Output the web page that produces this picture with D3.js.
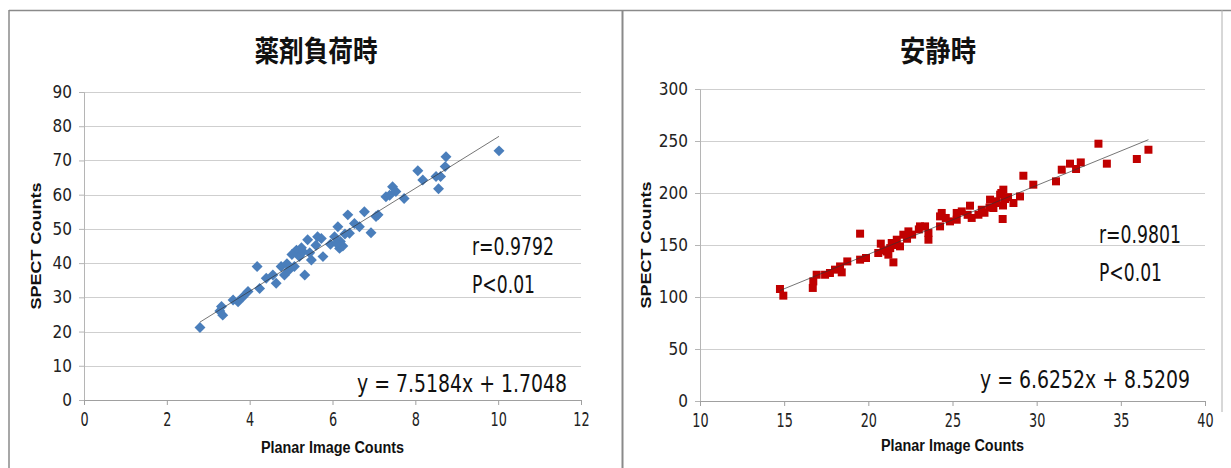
<!DOCTYPE html>
<html lang="ja">
<head>
<meta charset="UTF-8">
<title>Planar vs SPECT counts</title>
<script src="https://d3js.org/d3.v7.min.js"></script>
<style>
  body { margin: 0; background: #fff; }
  svg { display: block; }
  .tick text { font-family: "Liberation Sans Narrow", "DejaVu Sans Condensed", sans-serif; fill: #222; }
  .title { font-family: "Noto Sans CJK JP", sans-serif; font-weight: bold; font-size: 29px; fill: #111; }
  .axis-label { font-family: "Liberation Sans", "DejaVu Sans", sans-serif; font-weight: bold; fill: #111; }
  .note { font-family: "Liberation Sans Narrow", "DejaVu Sans Condensed", sans-serif; font-size: 24px; fill: #111; }
</style>
</head>
<body>
<svg width="1231" height="468"></svg>
<script>
// stress (薬剤負荷時)
const stressX = [2.80, 3.28, 3.32, 3.35, 3.60, 3.72, 3.84, 3.96, 4.18, 4.24, 4.40, 4.56, 4.64, 4.76, 4.84,
  4.95, 5.08, 5.13, 5.20, 5.29, 5.33, 5.40, 5.49, 5.64, 5.73, 5.77, 5.95, 6.05, 6.13, 6.17, 6.19, 6.25,
  6.37, 6.41, 6.53, 6.65, 6.77, 6.93, 7.05, 7.10, 7.29, 7.38, 7.45, 7.53, 7.73, 8.06, 8.18, 8.50, 8.56,
  8.61, 8.72, 8.74, 10.02, 5.02, 5.25, 5.45, 6.10, 6.30, 4.90, 5.60];
const stressY = [21.2, 26.0, 27.3, 24.8, 29.2, 28.7, 30.2, 31.7, 39.0, 32.6, 35.6, 36.5, 34.1, 39.0, 36.5,
  38.0, 39.0, 43.8, 41.9, 43.3, 36.5, 46.8, 40.9, 47.7, 47.2, 41.9, 45.5, 47.7, 50.6, 44.3, 46.3, 45.0,
  54.1, 48.7, 51.6, 50.6, 55.0, 48.9, 53.6, 54.1, 59.4, 59.8, 62.3, 60.9, 58.9, 67.0, 64.3, 65.3, 61.7,
  65.3, 68.2, 71.1, 72.8, 42.5, 44.5, 43.0, 45.8, 48.5, 39.8, 45.2];

// rest (安静時)
const restX = [14.75, 14.95, 16.70, 16.73, 16.93, 17.43, 17.72, 18.02, 18.32, 18.42, 18.75, 19.51, 19.51,
  19.86, 20.59, 20.74, 21.09, 21.19, 21.49, 21.39, 21.69, 21.88, 22.08, 22.38, 23.07, 23.37, 23.57, 23.57,
  24.26, 24.36, 24.26, 24.85, 25.25, 25.25, 25.55, 26.04, 26.14, 26.54, 26.74, 27.23, 27.43, 27.63, 27.83,
  28.02, 27.98, 28.12, 28.62, 29.01, 29.21, 29.80, 31.15, 31.49, 31.98, 32.34, 32.62, 33.67, 34.17, 35.95,
  36.64, 20.90, 21.30, 21.60, 22.30, 22.60, 23.00, 24.60, 25.90, 26.90, 27.20, 27.60, 27.90, 28.30, 28.00];
const restY = [107.7, 101.3, 108.7, 115.0, 121.4, 121.4, 123.1, 126.3, 129.4, 123.7, 134.2, 160.9, 135.9,
  137.5, 142.3, 151.3, 143.8, 140.7, 133.3, 151.9, 155.1, 148.7, 159.9, 163.1, 167.9, 167.9, 155.1, 161.5,
  177.5, 180.8, 167.9, 172.7, 174.3, 180.8, 182.3, 187.8, 176.0, 179.1, 183.9, 193.6, 185.6, 190.4, 198.4,
  203.2, 175.0, 194.2, 190.4, 196.7, 216.6, 208.0, 211.2, 222.4, 228.2, 223.1, 229.4, 247.4, 228.2, 232.7,
  241.6, 145.0, 147.0, 150.0, 156.0, 160.0, 165.0, 176.0, 179.0, 181.0, 186.0, 192.0, 200.0, 196.0, 188.0];

const stressTicksX = [0, 2, 4, 6, 8, 10, 12];
const stressTicksY = [0, 10, 20, 30, 40, 50, 60, 70, 80, 90];
const restTicksX = [10, 15, 20, 25, 30, 35, 40];
const restTicksY = [0, 50, 100, 150, 200, 250, 300];

const stressFit = { slope: 7.5184, icept: 1.7048, r: "r=0.9792" };
const restFit = { slope: 6.6252, icept: 8.5209, r: "r=0.9801" };

const svg = d3.select("svg");

// panel frames
svg.append("line").attr("x1", 9).attr("x2", 1231).attr("y1", 10.5).attr("y2", 10.5).attr("stroke", "#8a8a8a").attr("stroke-width", 1.5);
svg.append("line").attr("x1", 9).attr("x2", 9).attr("y1", 10).attr("y2", 468).attr("stroke", "#8a8a8a").attr("stroke-width", 1.5);
svg.append("line").attr("x1", 622.5).attr("x2", 622.5).attr("y1", 10).attr("y2", 468).attr("stroke", "#8a8a8a").attr("stroke-width", 2);
svg.append("line").attr("x1", 1222).attr("x2", 1222).attr("y1", 10).attr("y2", 412).attr("stroke", "#b0b0b0").attr("stroke-width", 1);

function panel(o) {
  const x = d3.scaleLinear().domain(d3.extent(o.ticksX)).range([o.left, o.right]);
  const y = d3.scaleLinear().domain(d3.extent(o.ticksY)).range([o.bottom, o.top]);
  const g = svg.append("g");

  // gridlines
  g.selectAll(".grid").data(o.ticksY.slice(1)).join("line")
    .attr("x1", o.left).attr("x2", o.right)
    .attr("y1", d => Math.round(y(d)) + 0.5).attr("y2", d => Math.round(y(d)) + 0.5)
    .attr("stroke", "#cfcfcf").attr("stroke-width", 1.2);

  const ay = g.append("g").attr("transform", `translate(${o.left},0)`)
    .call(d3.axisLeft(y).tickValues(o.ticksY).tickSize(5).tickPadding(7));
  ay.select(".domain").attr("stroke", "#b5b5b5");
  ay.selectAll(".tick line").attr("stroke", "#b5b5b5");
  ay.selectAll(".tick text").style("font-size", "17px");

  const ax = g.append("g").attr("transform", `translate(0,${o.bottom})`)
    .call(d3.axisBottom(x).tickValues(o.ticksX).tickSize(5).tickPadding(8));
  ax.select(".domain").attr("stroke", "#a0a0a0");
  ax.selectAll(".tick line").attr("stroke", "#a0a0a0");
  ax.selectAll(".tick text").style("font-size", "19px")
    .attr("transform", "scale(0.75,1)");

  const [x0, x1] = d3.extent(o.xs);
  const pts = o.xs.map((v, i) => [v, o.ys[i]]);
  g.selectAll(".pt").data(pts).join("path")
    .attr("d", d3.symbol(d3.symbolSquare, o.size))
    .attr("transform", d => `translate(${x(d[0])},${y(d[1])}) rotate(${o.rot})`)
    .attr("fill", o.color);

  // trendline
  g.append("line")
    .attr("x1", x(x0)).attr("y1", y(o.fit.slope * x0 + o.fit.icept))
    .attr("x2", x(x1)).attr("y2", y(o.fit.slope * x1 + o.fit.icept))
    .attr("stroke", "#333").attr("stroke-width", 0.9).attr("opacity", 0.75);

  // titles and labels
  svg.append("text").attr("class", "title").attr("text-anchor", "middle")
    .attr("x", o.titleX).attr("y", 62).attr("textLength", o.titleW).attr("lengthAdjust", "spacingAndGlyphs")
    .text(o.title);

  svg.append("text").attr("class", "axis-label").attr("text-anchor", "middle")
    .attr("transform", `translate(${o.ylabX},${(o.top + o.bottom) / 2}) rotate(-90)`)
    .style("font-size", "15px").attr("textLength", 127).attr("lengthAdjust", "spacingAndGlyphs")
    .text("SPECT Counts");

  svg.append("text").attr("class", "axis-label").attr("text-anchor", "middle")
    .attr("x", (o.left + o.right) / 2).attr("y", o.xlabY)
    .style("font-size", "16px").attr("textLength", 143).attr("lengthAdjust", "spacingAndGlyphs")
    .text("Planar Image Counts");

  svg.append("text").attr("class", "note").attr("x", o.noteX).attr("y", o.rY)
    .attr("textLength", 82).attr("lengthAdjust", "spacingAndGlyphs").text(o.fit.r);
  svg.append("text").attr("class", "note").attr("x", o.noteX).attr("y", o.rY + 38)
    .attr("textLength", 63).attr("lengthAdjust", "spacingAndGlyphs").text("P<0.01");
  svg.append("text").attr("class", "note").attr("x", o.eqX).attr("y", o.eqY)
    .attr("textLength", 210).attr("lengthAdjust", "spacingAndGlyphs")
    .text(`y = ${o.fit.slope}x + ${o.fit.icept}`);
}

panel({
  xs: stressX, ys: stressY, ticksX: stressTicksX, ticksY: stressTicksY, fit: stressFit,
  left: 84, right: 581, top: 92, bottom: 400,
  color: "#4a7ebb", size: 60, rot: 45,
  title: "薬剤負荷時", titleX: 316, titleW: 123, ylabX: 41, xlabY: 453,
  noteX: 472, rY: 255, eqX: 357, eqY: 392
});

panel({
  xs: restX, ys: restY, ticksX: restTicksX, ticksY: restTicksY, fit: restFit,
  left: 700, right: 1205, top: 89, bottom: 401,
  color: "#c00000", size: 64, rot: 0,
  title: "安静時", titleX: 938, titleW: 76, ylabX: 651, xlabY: 451,
  noteX: 1099, rY: 243, eqX: 980, eqY: 388
});
</script>
</body>
</html>
